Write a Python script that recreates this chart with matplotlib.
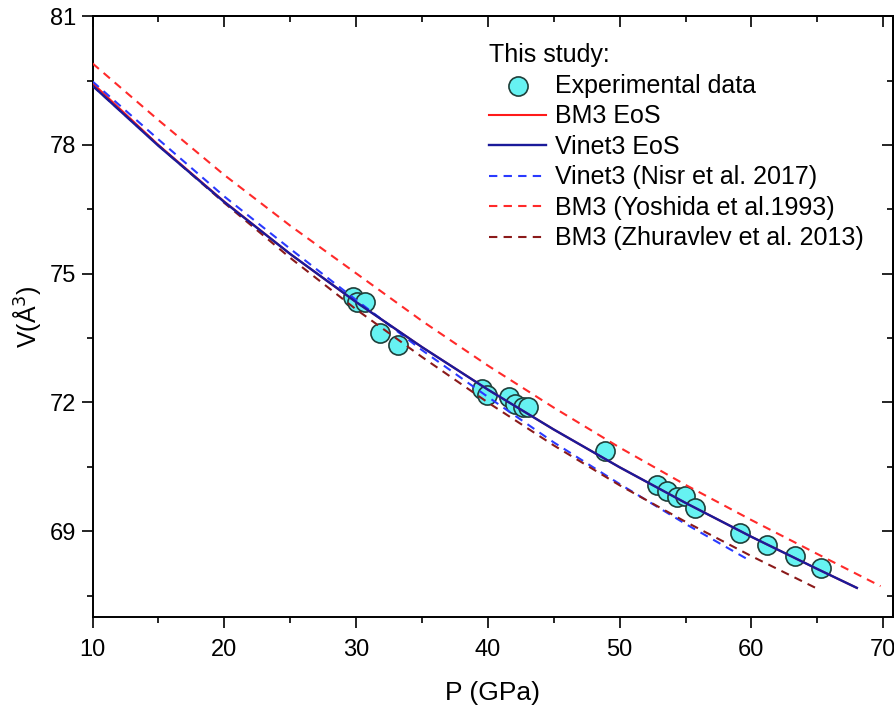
import numpy as np
import matplotlib.pyplot as plt
from matplotlib.ticker import MultipleLocator

plt.rcParams['font.family'] = ['Liberation Sans', 'DejaVu Sans']

# --- Experimental data (this study) ---
p_exp = [29.77, 30.07, 30.68, 31.81, 33.18, 39.54, 39.95, 41.62, 42.05, 42.68,
         43.06, 48.89, 52.83, 53.59, 54.35, 54.95, 55.71, 59.13, 61.18, 63.3, 65.27]
v_exp = [74.45, 74.33, 74.33, 73.61, 73.33, 72.32, 72.17, 72.13, 71.97, 71.89,
         71.90, 70.86, 70.07, 69.93, 69.79, 69.83, 69.55, 68.95, 68.69, 68.43, 68.15]

# --- EoS curves ---
p_fit = [10, 15, 20, 25, 30, 35, 40, 45, 50, 55, 60, 65, 68]
v_bm3 = [79.44, 78.00, 76.68, 75.46, 74.34, 73.29, 72.30, 71.37, 70.49, 69.66, 68.87, 68.12, 67.68]
v_vinet = [79.38, 77.98, 76.67, 75.46, 74.34, 73.29, 72.30, 71.37, 70.49, 69.66, 68.87, 68.12, 67.68]

p_nisr = [10, 15, 20, 25, 30, 35, 40, 45, 50, 55, 59.8]
v_nisr = [79.48, 78.13, 76.80, 75.58, 74.39, 73.22, 72.13, 71.07, 70.10, 69.17, 68.33]

p_yosh = [10, 15, 20, 25, 30, 35, 40, 45, 50, 55, 60, 65, 69.8]
v_yosh = [79.90, 78.58, 77.30, 76.12, 75.01, 73.90, 72.86, 71.88, 70.95, 70.08, 69.26, 68.47, 67.72]

p_zhur = [10, 15, 20, 25, 30, 35, 40, 45, 50, 55, 60, 65]
v_zhur = [79.38, 77.99, 76.65, 75.37, 74.17, 73.06, 72.00, 71.00, 70.07, 69.22, 68.42, 67.66]

fig = plt.figure(figsize=(8.95, 7.06), dpi=100)
ax = fig.add_axes([0.1034, 0.126, 0.8946, 0.851])

sc = ax.scatter(p_exp, v_exp, s=190, facecolor='#66F2F2', edgecolor='#1F3F3A',
                linewidth=1.2, zorder=2, label='Experimental data')
l1, = ax.plot(p_fit, v_bm3, color='#FF1A1A', lw=1.5, zorder=3, label='BM3 EoS')
l2, = ax.plot(p_fit, v_vinet, color='#1A1A9A', lw=1.7, zorder=4, label='Vinet3 EoS')
l3, = ax.plot(p_nisr, v_nisr, color='#2A3AFF', lw=1.5, dashes=(4, 3), zorder=3,
              label='Vinet3 (Nisr et al. 2017)')
l4, = ax.plot(p_yosh, v_yosh, color='#FF2A2A', lw=1.5, dashes=(4, 3), zorder=3,
              label='BM3 (Yoshida et al.1993)')
l5, = ax.plot(p_zhur, v_zhur, color='#8B1A1A', lw=1.5, dashes=(4, 3), zorder=3,
              label='BM3 (Zhuravlev et al. 2013)')

ax.set_xlim(10, 70.76)
ax.set_ylim(67, 81)
ax.xaxis.set_major_locator(MultipleLocator(10))
ax.xaxis.set_minor_locator(MultipleLocator(5))
ax.set_yticks([69, 72, 75, 78, 81])
ax.set_yticks([67.5, 70.5, 73.5, 76.5, 79.5], minor=True)

ax.tick_params(axis='both', which='both', direction='out', width=1.2,
               labelsize=17, top=False, right=False)
ax.tick_params(which='major', length=8)
ax.tick_params(which='minor', length=4)
ax.tick_params(axis='x', which='major', pad=8)
ax.tick_params(axis='y', which='major', pad=4)

# inward ticks on the top and right edges
axt = ax.secondary_xaxis('top')
axt.xaxis.set_major_locator(MultipleLocator(10))
axt.xaxis.set_minor_locator(MultipleLocator(5))
axt.tick_params(which='both', direction='in', width=1.2, labeltop=False)
axt.tick_params(which='major', length=8)
axt.tick_params(which='minor', length=4)
axr = ax.secondary_yaxis('right')
axr.set_yticks([69, 72, 75, 78, 81])
axr.set_yticks([67.5, 70.5, 73.5, 76.5, 79.5], minor=True)
axr.tick_params(which='both', direction='in', width=1.2, labelright=False)
axr.tick_params(which='major', length=8)
axr.tick_params(which='minor', length=4)
for a in (axt, axr):
    for s in a.spines.values():
        s.set_linewidth(1.4)
for s in ax.spines.values():
    s.set_linewidth(1.4)

ax.set_xlabel('P (GPa)', fontsize=19, labelpad=14)
ax.set_ylabel('V(Å$^3$)', fontsize=18, labelpad=5)

leg = ax.legend(handles=[sc, l1, l2, l3, l4, l5], title='This study:',
                loc='upper left', bbox_to_anchor=(0.495, 0.955), frameon=False,
                fontsize=18, title_fontsize=18, alignment='left',
                borderpad=0, borderaxespad=0, handlelength=2.3,
                handletextpad=0.35, labelspacing=0.26, scatterpoints=1)

fig.savefig('out.png', dpi=100)
